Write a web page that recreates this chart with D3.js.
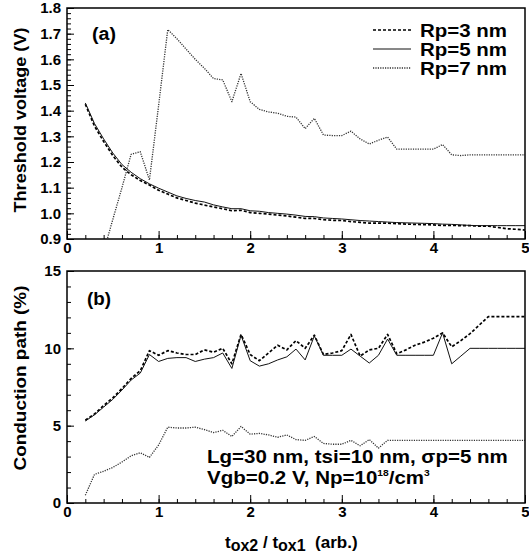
<!DOCTYPE html>
<html>
<head>
<meta charset="utf-8">
<script src="https://cdnjs.cloudflare.com/ajax/libs/d3/7.8.5/d3.min.js"></script>
<style>
  body { margin: 0; background: #fff; }
  text { font-family: Arial, "Liberation Sans", sans-serif; font-weight: bold; fill: #000; }
</style>
</head>
<body>
<script>
// Step 1: chart data
// =================================
var tRatio = [0.2, 0.3, 0.4, 0.5, 0.6, 0.7, 0.8, 0.9,
  1.0, 1.1, 1.2, 1.3, 1.4, 1.5, 1.6, 1.7, 1.8, 1.9,
  2.0, 2.1, 2.2, 2.3, 2.4, 2.5, 2.6, 2.7, 2.8, 2.9,
  3.0, 3.1, 3.2, 3.3, 3.4, 3.5, 3.6, 3.7, 3.8, 3.9,
  4.0, 4.1, 4.2, 4.3, 4.4, 4.5, 4.6, 4.7, 4.8, 4.9, 5.0];

var seriesNames = ["Rp=3 nm", "Rp=5 nm", "Rp=7 nm"];

// (a) threshold voltage, V
var vthRp3 = [1.425, 1.34, 1.28, 1.225, 1.18, 1.15, 1.128, 1.11,
  1.09, 1.075, 1.06, 1.05, 1.04, 1.032, 1.025, 1.018, 1.01, 1.012,
  1.003, 1.0, 0.997, 0.993, 0.99, 0.985, 0.98, 0.98, 0.975, 0.973,
  0.972, 0.968, 0.965, 0.962, 0.962, 0.962, 0.96, 0.958, 0.957, 0.956,
  0.955, 0.953, 0.953, 0.952, 0.952, 0.95, 0.95, 0.945, 0.94, 0.938, 0.935];
var vthRp5 = [1.43, 1.35, 1.29, 1.235, 1.19, 1.16, 1.135, 1.115,
  1.098, 1.083, 1.068, 1.058, 1.05, 1.044, 1.033, 1.025, 1.018, 1.018,
  1.01, 1.008, 1.003, 1.0, 0.997, 0.993, 0.988, 0.987, 0.982, 0.98,
  0.978, 0.975, 0.972, 0.97, 0.968, 0.966, 0.964, 0.963, 0.962, 0.961,
  0.96, 0.958, 0.957, 0.955, 0.953, 0.952, 0.952, 0.952, 0.952, 0.952, 0.952];
var vthRp7 = [null, null, 0.85, 0.976, 1.10, 1.23, 1.24, 1.13,
  1.42, 1.716, 1.68, 1.64, 1.60, 1.565, 1.525, 1.52, 1.435, 1.545,
  1.435, 1.405, 1.395, 1.39, 1.378, 1.375, 1.33, 1.37, 1.305, 1.303,
  1.303, 1.32, 1.29, 1.27, 1.285, 1.297, 1.25, 1.25, 1.25, 1.25,
  1.25, 1.268, 1.228, 1.225, 1.228, 1.228, 1.228, 1.228, 1.228, 1.228, 1.228];

// (b) conduction path, %
var pathRp3 = [5.35, 5.75, 6.3, 6.8, 7.4, 8.05, 8.55, 9.85,
  9.55, 9.85, 9.7, 9.6, 9.6, 9.9, 9.75, 10.0, 9.0, 10.9,
  9.6, 9.2, 9.7, 10.2, 9.9, 10.5, 10.0, 10.85, 9.6, 9.7,
  9.85, 10.9, 9.5, 9.9, 10.0, 10.9, 9.65, 9.9, 10.2, 10.4,
  10.65, 11.0, 10.1, 10.5, 10.95, 11.5, 12.05, 12.05, 12.05, 12.05, 12.05];
var pathRp5 = [5.3, 5.7, 6.2, 6.7, 7.3, 7.95, 8.4, 9.6,
  9.15, 9.35, 9.4, 9.4, 9.15, 9.3, 9.4, 9.7, 8.7, 10.85,
  9.2, 8.85, 9.0, 9.25, 9.45, 9.95, 9.25, 10.8, 9.55, 9.55,
  9.55, 9.95, 9.5, 9.05, 9.55, 10.6, 9.55, 9.55, 9.55, 9.55,
  9.55, 11.0, 9.0, 9.5, 10.0, 10.0, 10.0, 10.0, 10.0, 10.0, 10.0];
var pathRp7 = [0.5, 1.85, 2.05, 2.3, 2.65, 3.05, 3.25, 2.95,
  3.75, 4.9, 4.85, 4.85, 4.9, 4.75, 4.55, 4.7, 4.3, 4.95,
  4.45, 4.5, 4.4, 4.25, 4.4, 4.1, 4.05, 4.3, 3.85, 3.8,
  3.8, 4.05, 3.7, 4.1, 3.55, 4.05, 4.05, 4.05, 4.05, 4.05,
  4.05, 4.05, 4.05, 4.05, 4.05, 4.05, 4.05, 4.05, 4.05, 4.05, 4.05];

var xTickLabels = [0, 1, 2, 3, 4, 5];
var vthTickLabels = [0.9, 1.0, 1.1, 1.2, 1.3, 1.4, 1.5, 1.6, 1.7, 1.8];
var pathTickLabels = [0, 5, 10, 15];

// Step 2: SVG
// =================================
var svgWidth = 529;
var svgHeight = 555;

var svg = d3.select("body")
  .append("svg")
  .attr("width", svgWidth)
  .attr("height", svgHeight);

// line styles for the three Rp curves
var styles = [
  { width: 1.7, dash: "3,2", color: "#000" },
  { width: 1, dash: null, color: "#111" },
  { width: 1.3, dash: "1.2,1.2", color: "#333" }
];

var xScale = d3.scaleLinear().domain([0, 5]).range([67, 525]);

function drawPanel(id, top, bottom, yDomain, yMajors, yMinorCount, yFmt, series) {
  var yScale = d3.scaleLinear().domain(yDomain).range([bottom, top]);
  var g = svg.append("g");

  g.append("clipPath").attr("id", id)
    .append("rect")
    .attr("x", xScale(0)).attr("y", top)
    .attr("width", xScale(5) - xScale(0)).attr("height", bottom - top);

  // minor ticks
  g.append("g")
    .attr("transform", `translate(0, ${bottom})`)
    .call(d3.axisBottom(xScale).ticks(25).tickSize(-4).tickFormat(""));
  g.append("g")
    .attr("transform", `translate(${xScale(0)}, 0)`)
    .call(d3.axisLeft(yScale).ticks(yMinorCount).tickSize(-4).tickFormat(""));

  // major ticks with labels
  g.append("g")
    .attr("transform", `translate(0, ${bottom})`)
    .call(d3.axisBottom(xScale).tickValues(xTickLabels).tickSize(-8).tickPadding(3).tickFormat(d3.format("d")));
  g.append("g")
    .attr("transform", `translate(${xScale(0)}, 0)`)
    .call(d3.axisLeft(yScale).tickValues(yMajors).tickSize(-7).tickPadding(6).tickFormat(yFmt));

  g.selectAll(".domain").remove();
  g.selectAll(".tick line").attr("stroke", "#000").attr("stroke-width", 1);
  g.selectAll(".tick text")
    .attr("font-family", "Arial, 'Liberation Sans', sans-serif")
    .attr("font-weight", "bold")
    .attr("font-size", 15)
    .attr("fill", "#000");

  // curves
  series.forEach(function(vals, i) {
    var line = d3.line()
      .defined(d => d[1] != null)
      .x(d => xScale(d[0]))
      .y(d => yScale(d[1]));
    g.append("path")
      .attr("clip-path", `url(#${id})`)
      .attr("d", line(d3.zip(tRatio, vals)))
      .attr("fill", "none")
      .attr("stroke", styles[i].color)
      .attr("stroke-width", styles[i].width)
      .attr("stroke-dasharray", styles[i].dash)
      .attr("stroke-linejoin", "round");
  });

  // frame
  g.append("rect")
    .attr("x", xScale(0)).attr("y", top)
    .attr("width", xScale(5) - xScale(0)).attr("height", bottom - top)
    .attr("fill", "none")
    .attr("stroke", "#000")
    .attr("stroke-width", 1.5);

  return g;
}

// Step 3: the two panels
// =================================
drawPanel("clipA", 8, 239, [0.9, 1.8], vthTickLabels, 45, d3.format(".1f"),
  [vthRp3, vthRp5, vthRp7]);
drawPanel("clipB", 271, 503, [0, 15], pathTickLabels, 15, d3.format("d"),
  [pathRp3, pathRp5, pathRp7]);

// panel tags
svg.append("text").attr("x", 92).attr("y", 40).attr("font-size", 18)
  .attr("textLength", 24).attr("lengthAdjust", "spacingAndGlyphs").text("(a)");
svg.append("text").attr("x", 87).attr("y", 305).attr("font-size", 18)
  .attr("textLength", 24).attr("lengthAdjust", "spacingAndGlyphs").text("(b)");

// Step 4: legend
// =================================
var legendRows = [30, 49, 68];
seriesNames.forEach(function(name, i) {
  svg.append("line")
    .attr("x1", 373).attr("x2", 411)
    .attr("y1", legendRows[i]).attr("y2", legendRows[i])
    .attr("stroke", styles[i].color)
    .attr("stroke-width", styles[i].width)
    .attr("stroke-dasharray", styles[i].dash);
  svg.append("text")
    .attr("x", 420).attr("y", legendRows[i] + 6.5)
    .attr("font-size", 18)
    .attr("textLength", 87).attr("lengthAdjust", "spacingAndGlyphs")
    .text(name);
});

// Step 5: axis titles and annotation
// =================================
svg.append("text")
  .attr("transform", "translate(26, 120) rotate(-90)")
  .attr("text-anchor", "middle")
  .attr("font-size", 16.5)
  .attr("textLength", 185).attr("lengthAdjust", "spacingAndGlyphs")
  .text("Threshold voltage (V)");

svg.append("text")
  .attr("transform", "translate(26, 378) rotate(-90)")
  .attr("text-anchor", "middle")
  .attr("font-size", 16.5)
  .attr("textLength", 185).attr("lengthAdjust", "spacingAndGlyphs")
  .text("Conduction path (%)");

var xTitle = svg.append("text")
  .attr("x", 225).attr("y", 548)
  .attr("font-size", 17);
xTitle.append("tspan").text("t");
xTitle.append("tspan").attr("dy", 3).attr("font-size", 16).text("ox2");
xTitle.append("tspan").attr("dy", -3).text(" / t");
xTitle.append("tspan").attr("dy", 3).attr("font-size", 16).text("ox1");
xTitle.append("tspan").attr("dy", -3).text("\u00a0\u00a0(arb.)");

var note = svg.append("g").attr("transform", "translate(207, 0) scale(1.14, 1)");
note.append("text").attr("x", 0).attr("y", 463).attr("font-size", 18)
  .text("Lg=30 nm, tsi=10 nm, \u03c3p=5 nm");
var note2 = note.append("text").attr("x", 0).attr("y", 484).attr("font-size", 18);
note2.append("tspan").text("Vgb=0.2 V, Np=10");
note2.append("tspan").attr("dy", -8).attr("font-size", 9).text("18");
note2.append("tspan").attr("dy", 8).text("/cm");
note2.append("tspan").attr("dy", -8).attr("font-size", 9).text("3");
</script>
</body>
</html>
